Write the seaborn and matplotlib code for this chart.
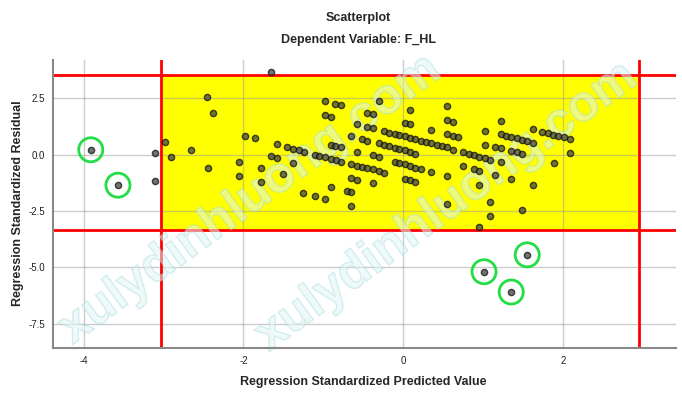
"""
Scatterplot of standardized residuals vs standardized predicted values (F_HL)
"""

import numpy as np
import pandas as pd
import matplotlib
matplotlib.use("Agg")
import matplotlib.pyplot as plt
import matplotlib.patheffects as pe
import seaborn as sns
from matplotlib.patches import Rectangle

# ========================================
# Data
# ========================================
title = "Scatterplot"
subtitle = "Dependent Variable: F_HL"
x_label = "Regression Standardized Predicted Value"
y_label = "Regression Standardized Residual"

x_ticks = [-4, -2, 0, 2]
y_ticks = [-7.5, -5.0, -2.5, 0.0, 2.5]
x_bounds = [-3.03, 2.95]     # red vertical lines
y_bounds = [-3.35, 3.54]     # red horizontal lines

predicted = [
    -3.91, -3.57, -3.11, -3.11,
    -2.975, -2.91, -2.65, -2.45, -2.375, -2.44, -1.98, -1.85, -2.05, -2.05,
    -1.65, -1.58, -1.45, -1.38, -1.31, -1.24, -1.65, -1.58, -1.78, -1.78,
    -1.375, -1.51, -1.11, -1.05, -0.98, -0.91, -0.84, -0.775,
    -0.98, -0.85, -0.78, -0.98, -0.91, -0.58, -0.65, -0.52, -0.45,
    -0.91, -0.85, -0.78, -0.58,
    -0.65, -0.58, -0.52, -0.45, -0.38, -0.31, -0.245,
    -0.65, -0.58, -0.91, -1.25, -1.11, -0.98, -0.71, -0.65, -0.65,
    -0.31, -0.45, -0.38, -0.45, -0.38, -0.31, -0.38, -0.31, -0.38,
    -0.245, -0.18, -0.11, -0.05, 0.02, 0.09, 0.15, 0.22, 0.29, 0.35, 0.42, 0.49, 0.55, 0.62,
    -0.245, -0.18, -0.11, -0.05, 0.02, 0.09, 0.15,
    -0.11, -0.05, 0.02, 0.09, 0.15, 0.22,
    0.02, 0.09, 0.15, 0.09, 0.02, 0.09, 0.35, 0.35,
    0.55, 0.55, 0.62, 0.55, 0.62, 0.69, 0.55, 0.55,
    0.75, 0.82, 0.88, 0.95, 1.02, 1.08, 0.75,
    1.22, 1.02, 1.22, 1.28, 1.35, 1.42, 1.48, 1.55, 1.62, 1.62,
    1.74, 1.81, 1.87, 1.94, 2.01, 2.08, 2.08, 1.88,
    1.02, 1.15, 1.22, 1.35, 1.42, 1.48, 1.22, 0.88, 0.95, 1.15, 1.35,
    1.62, 0.95, 1.08, 1.08, 0.95, 1.48,
    1.01, 1.35, 1.55,
]
residual = [
    0.21, -1.36, 0.06, -1.18,
    0.54, -0.13, 0.22, 2.54, 1.84, -0.58, 0.84, 0.72, -0.34, -0.96,
    3.66, 0.47, 0.32, 0.25, 0.19, 0.13, -0.07, -0.16, -0.60, -1.22,
    -0.37, -0.86, 0.00, -0.06, -0.12, -0.18, -0.25, -0.32,
    2.37, 2.24, 2.18, 1.75, 1.68, 1.36, 0.81, 0.68, 0.62,
    0.43, 0.38, 0.32, 0.13,
    -0.43, -0.50, -0.56, -0.60, -0.66, -0.74, -0.81,
    -1.06, -1.12, -1.43, -1.71, -1.86, -1.98, -1.62, -1.68, -2.30,
    2.36, 1.84, 1.78, 1.24, 1.18, 0.49, -0.04, -0.10, -1.28,
    1.05, 0.97, 0.91, 0.85, 0.80, 0.74, 0.68, 0.62, 0.56, 0.50, 0.44, 0.38, 0.32, 0.21,
    0.43, 0.37, 0.31, 0.25, 0.19, 0.12, 0.03,
    -0.32, -0.38, -0.44, -0.50, -0.58, -0.65,
    -1.08, -1.14, -1.21, 1.99, 1.40, 1.34, 1.09, -0.77,
    2.14, 1.53, 1.46, 0.92, 0.84, 0.78, -0.96, -2.21,
    0.09, 0.03, -0.03, -0.09, -0.15, -0.23, -0.52,
    1.50, 1.06, 0.90, 0.84, 0.78, 0.72, 0.66, 0.59, 0.50, 1.14,
    1.00, 0.94, 0.88, 0.83, 0.77, 0.68, 0.07, -0.37,
    0.44, 0.34, 0.27, 0.16, 0.09, 0.01, -0.35, -0.66, -0.72, -0.90, -1.10,
    -1.34, -1.34, -2.09, -2.73, -3.22, -2.48,
    -5.20, -6.10, -4.45,
]

# circled outliers
outlier_pred = [-3.91, -3.57, 1.01, 1.35, 1.55]
outlier_resid = [0.21, -1.36, -5.20, -6.10, -4.45]

watermark = "xulydinhluong.com"


def main():
    df = pd.DataFrame({"pred": predicted, "resid": residual})

    sns.set_style("white")
    plt.rcParams['font.family'] = ['Liberation Sans', 'DejaVu Sans']

    fig = plt.figure(figsize=(6.82, 3.99), dpi=100)
    ax = fig.add_axes([0.078, 0.128, 0.913, 0.722])

    # 노란 영역 + 빨간 기준선
    ax.add_patch(Rectangle((x_bounds[0], y_bounds[0]),
                           x_bounds[1] - x_bounds[0], y_bounds[1] - y_bounds[0],
                           facecolor="#ffff00", edgecolor="none", zorder=0.2))
    ax.grid(True, color="#999999", alpha=0.5, linewidth=1, zorder=0.5)
    ax.set_axisbelow(True)

    for xv in x_bounds:
        ax.axvline(xv, color="#ff0000", linewidth=2, zorder=2)
    for yv in y_bounds:
        ax.axhline(yv, color="#ff0000", linewidth=2, zorder=2)

    # 워터마크 (외곽선 글자, 점 아래)
    for cx, cy in [(0.367, 0.50), (0.655, 0.482)]:
        ax.text(cx, cy, watermark, transform=fig.transFigure, ha="center", va="center",
                rotation=36, fontsize=36, fontweight="bold", color="#e2f5f5", alpha=0.2,
                zorder=2.5, clip_on=False,
                path_effects=[pe.Stroke(linewidth=1.1, foreground="#9ad8d8", alpha=0.4),
                              pe.Normal()])

    sns.scatterplot(data=df, x="pred", y="resid", ax=ax, color="#444444",
                    edgecolor="#111111", linewidth=1, s=20, alpha=0.75, zorder=3)

    ax.scatter(outlier_pred, outlier_resid, s=300, facecolors="none",
               edgecolors="#22dd44", linewidths=2, zorder=4)

    ax.set_xlim(-4.38, 3.41)
    ax.set_ylim(-8.58, 4.2)
    ax.set_xticks(x_ticks)
    ax.set_xticklabels([str(v) for v in x_ticks])
    ax.set_yticks(y_ticks)
    ax.set_yticklabels([f"{v:.1f}" for v in y_ticks])
    ax.tick_params(length=0, labelsize=7, pad=6, colors="#222222")
    ax.set_xlabel("")
    ax.set_ylabel("")

    sns.despine(ax=ax)
    for side in ["left", "bottom"]:
        ax.spines[side].set_color("#888888")
        ax.spines[side].set_linewidth(1.5)

    fig.text(0.525, 0.955, title, ha="center", va="center", fontsize=9, fontweight="bold")
    fig.text(0.525, 0.9, subtitle, ha="center", va="center", fontsize=9, fontweight="bold")
    fig.text(0.532, 0.043, x_label, ha="center", va="center", fontsize=9, fontweight="bold")
    fig.text(0.026, 0.49, y_label, ha="center", va="center", rotation=90,
             fontsize=9, fontweight="bold")

    plt.savefig("out.png", dpi=100)
    plt.close()


if __name__ == '__main__':
    main()
